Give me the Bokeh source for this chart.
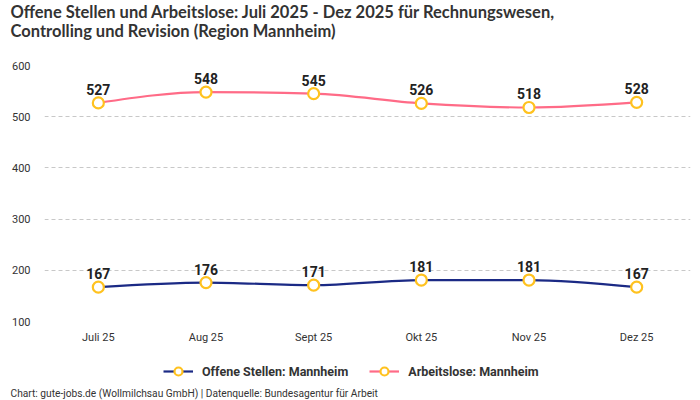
from bokeh.plotting import figure
from bokeh.layouts import column
from bokeh.models import (Range1d, FixedTicker, Legend, LegendItem,
                          ColumnDataSource)
from bokeh.core.properties import value
from bokeh.embed import file_html
from bokeh.resources import INLINE

# ---- data ----
months = ["Juli 25", "Aug 25", "Sept 25", "Okt 25", "Nov 25", "Dez 25"]
offene_stellen = [167, 176, 171, 181, 181, 167]
arbeitslose = [527, 548, 545, 526, 518, 528]
y_ticks = [100, 200, 300, 400, 500, 600]
series_names = ["Offene Stellen: Mannheim", "Arbeitslose: Mannheim"]

title_lines = ["Offene Stellen und Arbeitslose: Juli 2025 - Dez 2025 für Rechnungswesen,",
               "Controlling und Revision (Region Mannheim)"]
footer = "Chart: gute-jobs.de (Wollmilchsau GmbH) | Datenquelle: Bundesagentur für Arbeit"

NAVY = "#1b2a85"
PINK = "#ff6b87"
MARK = "#ffc21f"
FONT = "Roboto"
TITLE_FONT = "Lato"
TEXT_COL = "#333333"
W = 700


def sign(v):
    return (v > 0) - (v < 0)


def monotone_beziers(xs, ys):
    """Bezier control points following a monotone-x cubic (d3 curveMonotoneX)."""
    n = len(xs)
    t = [0.0] * n
    for i in range(1, n - 1):
        h0 = xs[i] - xs[i - 1]
        h1 = xs[i + 1] - xs[i]
        s0 = (ys[i] - ys[i - 1]) / h0
        s1 = (ys[i + 1] - ys[i]) / h1
        pp = (s0 * h1 + s1 * h0) / (h0 + h1)
        t[i] = (sign(s0) + sign(s1)) * min(abs(s0), abs(s1), 0.5 * abs(pp))
    h = xs[1] - xs[0]
    t[0] = (3 * (ys[1] - ys[0]) / h - t[1]) / 2
    h = xs[-1] - xs[-2]
    t[-1] = (3 * (ys[-1] - ys[-2]) / h - t[-2]) / 2
    d = dict(x0=[], y0=[], x1=[], y1=[], cx0=[], cy0=[], cx1=[], cy1=[])
    for i in range(n - 1):
        dx = (xs[i + 1] - xs[i]) / 3
        d["x0"].append(xs[i]); d["y0"].append(ys[i])
        d["x1"].append(xs[i + 1]); d["y1"].append(ys[i + 1])
        d["cx0"].append(xs[i] + dx); d["cy0"].append(ys[i] + dx * t[i])
        d["cx1"].append(xs[i + 1] - dx); d["cy1"].append(ys[i + 1] - dx * t[i + 1])
    return d


def text_panel(h):
    """A blank figure whose frame is the whole canvas, 1 data unit = 1 px."""
    f = figure(width=W, height=h, output_backend="svg", toolbar_location=None,
               x_range=Range1d(0, W), y_range=Range1d(0, h),
               x_axis_type=None, y_axis_type=None, frame_align=False,
               min_border=0, min_border_left=0, min_border_right=0,
               min_border_top=0, min_border_bottom=0)
    f.outline_line_color = None
    f.grid.visible = False
    f.background_fill_color = "white"
    f.border_fill_color = "white"
    return f


xs = list(range(len(months)))

# ---- title panel ----
top = text_panel(45)
top.text(x=[10, 10], y=[34, 15], text=title_lines, text_font=value(TITLE_FONT),
         text_font_style="bold", text_font_size="16.5px", text_color=TEXT_COL,
         text_baseline="middle", text_align="left")

# ---- main chart ----
p = figure(width=W, height=312, output_backend="svg", toolbar_location=None,
           x_range=Range1d(-0.5, len(months) - 0.5), y_range=Range1d(100, 600),
           frame_align=False,
           min_border_left=44, min_border_right=10, min_border_top=20,
           min_border_bottom=36)
p.outline_line_color = None
p.background_fill_color = "white"
p.border_fill_color = "white"

p.xaxis.ticker = FixedTicker(ticks=xs)
p.xaxis.major_label_overrides = {i: m for i, m in enumerate(months)}
p.yaxis.ticker = FixedTicker(ticks=y_ticks)
for ax in (p.xaxis[0], p.yaxis[0]):
    ax.axis_line_color = None
    ax.major_tick_line_color = None
    ax.minor_tick_line_color = None
    ax.major_tick_out = 0
    ax.major_tick_in = 0
    ax.major_label_text_font = FONT
    ax.major_label_text_font_size = "11px"
    ax.major_label_text_color = TEXT_COL
p.xaxis.major_label_standoff = 9
p.yaxis.major_label_standoff = 14

p.xgrid.grid_line_color = None
p.ygrid.grid_line_color = "#c8c8c8"
p.ygrid.grid_line_dash = "4 3"
p.ygrid.grid_line_width = 1

series = [(offene_stellen, NAVY, series_names[0]),
          (arbeitslose, PINK, series_names[1])]
for vals, col, _ in series:
    bz = ColumnDataSource(monotone_beziers(xs, vals))
    p.bezier(x0="x0", y0="y0", x1="x1", y1="y1", cx0="cx0", cy0="cy0",
             cx1="cx1", cy1="cy1", source=bz, line_color=col, line_width=2.2)
    src = ColumnDataSource(dict(x=xs, y=vals, lbl=[str(v) for v in vals]))
    p.scatter("x", "y", source=src, size=11, fill_color="white",
              line_color=MARK, line_width=2.2)
    p.text("x", "y", text="lbl", source=src, text_align="center",
           text_baseline="bottom", y_offset=-8, text_font=value(FONT),
           text_font_style="bold", text_font_size="14px", text_color="#222222")

# ---- legend + footer panel ----
# legend proxies carry the series values, which lie outside this panel's range
bottom = text_panel(43)
items = []
for vals, col, name in series:
    src = ColumnDataSource(dict(x=xs, y=vals))
    rl = bottom.line("x", "y", source=src, line_color=col, line_width=2.2)
    rs = bottom.scatter("x", "y", source=src, size=11, fill_color="white",
                        line_color=MARK, line_width=2.2)
    items.append(LegendItem(label=name, renderers=[rl, rs]))
legend = Legend(items=items, orientation="horizontal", location=(163, 19),
                glyph_width=30, glyph_height=20, label_standoff=9, spacing=21,
                padding=0, margin=0, border_line_color=None,
                background_fill_alpha=0,
                label_text_font=FONT, label_text_font_style="bold",
                label_text_font_size="12.5px", label_text_color=TEXT_COL)
bottom.add_layout(legend, "center")
bottom.text(x=[10], y=[7], text=[footer], text_font=value(FONT),
            text_font_size="10.2px", text_color=TEXT_COL,
            text_baseline="middle", text_align="left")

layout = column(top, p, bottom, spacing=0)
open("out.html", "w").write(file_html(layout, INLINE))
